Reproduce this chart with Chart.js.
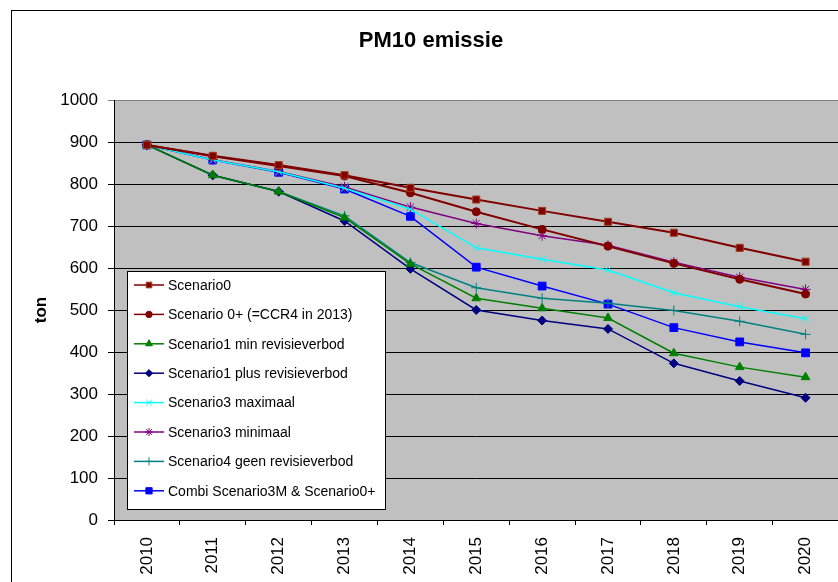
<!DOCTYPE html>
<html>
<head>
<meta charset="utf-8">
<title>PM10 emissie</title>
<script src="https://cdn.jsdelivr.net/npm/chart.js"></script>
<style>
  html, body { margin: 0; padding: 0; background: #fff; overflow: hidden; width: 838px; height: 582px; }
  canvas { display: block; }
</style>
</head>
<body>
<canvas id="pm10-chart" width="845" height="582"></canvas>
<script>
// years on the x axis
const years = ['2010', '2011', '2012', '2013', '2014', '2015', '2016', '2017', '2018', '2019', '2020'];

// values in ton
const scenario0 = [893, 867, 845, 821, 791, 763, 736, 710, 684, 648, 615];
const scenario0Plus = [893, 866, 843, 819, 779, 734, 692, 652, 611, 573, 538];
const scenario1Min = [893, 821, 782, 720, 610, 528, 504, 481, 397, 364, 340];
const scenario1Plus = [893, 821, 782, 712, 598, 500, 475, 455, 373, 331, 291];
const scenario3Max = [893, 857, 829, 790, 740, 648, 621, 595, 541, 508, 479];
const scenario3Min = [893, 858, 830, 793, 745, 706, 677, 654, 614, 578, 549];
const scenario4 = [893, 821, 782, 724, 613, 553, 528, 516, 499, 473, 442];
const combi = [893, 857, 828, 788, 723, 602, 557, 514, 458, 424, 398];

const yTicks = [0, 100, 200, 300, 400, 500, 600, 700, 800, 900, 1000];

const FONT = 'Arial, "Liberation Sans", sans-serif';

function serie(label, data, color, style, radius, width) {
    return {
        label: label,
        data: data,
        borderColor: color,
        backgroundColor: color,
        borderWidth: width || 1.5,
        pointStyle: style,
        pointRadius: radius,
        pointBackgroundColor: color,
        pointBorderColor: color,
        pointBorderWidth: 1,
        tension: 0,
        fill: false
    };
}

const datasets = [
    serie('Scenario0', scenario0, '#800000', 'rect', 5, 2),
    serie('Scenario 0+ (=CCR4 in 2013)', scenario0Plus, '#800000', 'circle', 4, 2),
    serie('Scenario1 min revisieverbod', scenario1Min, '#008000', 'triangle', 5),
    serie('Scenario1 plus revisieverbod', scenario1Plus, '#000080', 'rectRot', 4.5),
    serie('Scenario3 maximaal', scenario3Max, '#00FFFF', 'crossRot', 5),
    serie('Scenario3 minimaal', scenario3Min, '#800080', 'star', 5),
    serie('Scenario4 geen revisieverbod', scenario4, '#008080', 'cross', 5),
    serie('Combi Scenario3M & Scenario0+', combi, '#0000FF', 'rect', 5.5)
];
datasets[0].pointBorderColor = '#A0401A';

// grey plot area and the outer frame
const background = {
    id: 'background',
    beforeDraw(chart) {
        const ctx = chart.ctx;
        const a = chart.chartArea;
        ctx.save();
        ctx.fillStyle = '#fff';
        ctx.fillRect(0, 0, chart.width, chart.height);
        ctx.strokeStyle = '#000';
        ctx.lineWidth = 1;
        ctx.strokeRect(11.5, 10.5, chart.width + 20, chart.height + 20);
        ctx.fillStyle = '#C0C0C0';
        ctx.fillRect(a.left, a.top, a.right - a.left, a.bottom - a.top);
        ctx.restore();
    }
};

// legend box inside the plot area
const boxLegend = {
    id: 'boxLegend',
    afterDatasetsDraw(chart) {
        const ctx = chart.ctx;
        const x0 = 127.5, y0 = 271.5, w = 258, h = 238;
        ctx.save();
        ctx.fillStyle = '#fff';
        ctx.fillRect(x0, y0, w, h);
        ctx.strokeStyle = '#000';
        ctx.lineWidth = 1;
        ctx.strokeRect(x0, y0, w, h);
        ctx.font = '14px ' + FONT;
        ctx.textBaseline = 'middle';
        ctx.textAlign = 'left';
        chart.data.datasets.forEach(function(ds, i) {
            const y = 285 + i * 29.4;
            ctx.strokeStyle = ds.borderColor;
            ctx.lineWidth = 1.5;
            ctx.beginPath();
            ctx.moveTo(134, y);
            ctx.lineTo(164, y);
            ctx.stroke();
            ctx.fillStyle = ds.pointBackgroundColor;
            ctx.strokeStyle = ds.pointBorderColor;
            ctx.lineWidth = 1;
            Chart.helpers.drawPoint(ctx, {
                pointStyle: ds.pointStyle,
                radius: ds.pointRadius * 0.8,
                rotation: 0,
                borderWidth: 1
            }, 149, y);
            ctx.fillStyle = '#000';
            ctx.fillText(ds.label, 168, y + 1);
        });
        ctx.restore();
    }
};

const ctx = document.getElementById('pm10-chart').getContext('2d');
const chart = new Chart(ctx, {
    type: 'line',
    data: {
        labels: years,
        datasets: datasets
    },
    options: {
        responsive: false,
        animation: false,
        devicePixelRatio: 1,
        layout: { padding: { left: 17, top: 0, right: 0, bottom: 0 } },
        plugins: {
            legend: { display: false },
            tooltip: { enabled: false },
            title: {
                display: true,
                text: 'PM10 emissie',
                color: '#000',
                font: { family: FONT, size: 22, weight: 'bold' },
                padding: { top: 28, bottom: 45.6 }
            }
        },
        scales: {
            x: {
                offset: true,
                grid: { offset: true, drawOnChartArea: false, tickLength: 5, color: '#000' },
                border: { color: '#000' },
                ticks: {
                    autoSkip: false,
                    minRotation: 90,
                    maxRotation: 90,
                    padding: 12,
                    color: '#000',
                    font: { family: FONT, size: 17 }
                },
                afterFit(scale) {
                    scale.height = 62;
                    scale.paddingLeft = 0;
                    scale.paddingRight = 0;
                }
            },
            y: {
                min: 0,
                max: 1000,
                afterBuildTicks(scale) {
                    scale.ticks = yTicks.map(v => ({ value: v }));
                },
                grid: {
                    tickLength: 6,
                    color: c => (c.tick && c.tick.value === 1000 ? '#808080' : '#000')
                },
                border: { color: '#000' },
                ticks: {
                    padding: 10,
                    color: '#000',
                    font: { family: FONT, size: 17 },
                    callback: v => String(v)
                },
                title: {
                    display: true,
                    text: 'ton',
                    color: '#000',
                    font: { family: FONT, size: 17, weight: 'bold' },
                    padding: { top: 14, bottom: 0 }
                },
                afterFit(scale) { scale.width = 97; }
            }
        }
    },
    plugins: [background, boxLegend]
});
</script>
</body>
</html>
